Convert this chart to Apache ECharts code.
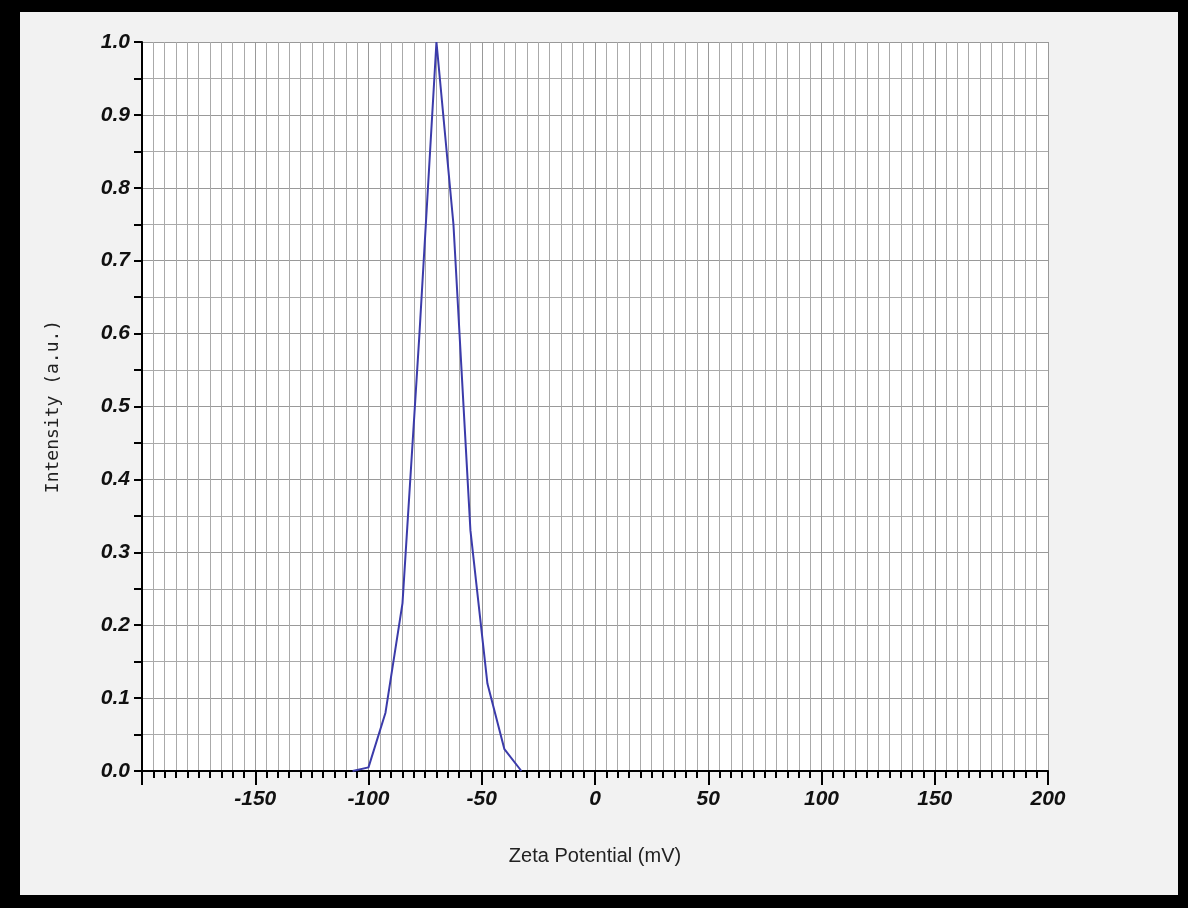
<!DOCTYPE html><html><head><meta charset="utf-8">
<script src="https://cdn.jsdelivr.net/npm/echarts@6/dist/echarts.min.js"></script>
<style>html,body{margin:0;padding:0;background:#000;}
#frame{position:absolute;left:20px;top:12px;width:1158px;height:883px;background:#f2f2f2;}
#c{position:absolute;left:0;top:0;width:1188px;height:908px;}</style></head><body>
<div id="frame"></div><div id="c"></div>
<script>
const zeta=[-107,-100,-92.5,-85,-77.5,-70,-62.5,-55,-47.5,-40,-32.5];
const intensity=[0,0.005,0.08,0.23,0.6,1.0,0.75,0.33,0.12,0.03,0];
const xTicks=[-150,-100,-50,0,50,100,150,200];
const chart=echarts.init(document.getElementById('c'));
const lab={color:'#111',fontStyle:'italic',fontWeight:'bold',fontSize:21,fontFamily:'Arial, Liberation Sans'};
chart.setOption({
 backgroundColor:'transparent',
 grid:{left:142,right:140,top:42,bottom:137,backgroundColor:'#fff',show:true,borderWidth:0},
 xAxis:{type:'value',min:-200,max:200,interval:50,
  name:'Zeta Potential (mV)',nameLocation:'middle',nameGap:75,
  nameTextStyle:{fontSize:20,color:'#222',fontFamily:'Arial, Liberation Sans'},
  axisLine:{onZero:false,lineStyle:{color:'#000',width:2}},
  axisTick:{show:true,length:14,lineStyle:{color:'#000',width:2}},
  minorTick:{show:true,splitNumber:10,length:7,lineStyle:{color:'#000',width:2}},
  splitLine:{show:true,lineStyle:{color:'#999',width:1}},
  minorSplitLine:{show:true,lineStyle:{color:'#aaa',width:1}},
  axisLabel:Object.assign({margin:18,formatter:v=>xTicks.includes(v)?String(v):''},lab)},
 yAxis:{type:'value',min:0,max:1,interval:0.1,
  name:'Intensity (a.u.)',nameLocation:'middle',nameGap:80,
  nameTextStyle:{fontSize:18,color:'#222',fontFamily:'DejaVu Sans Mono, Liberation Mono, monospace'},
  axisLine:{onZero:false,lineStyle:{color:'#000',width:2}},
  axisTick:{show:true,length:8,lineStyle:{color:'#000',width:2}},
  minorTick:{show:true,splitNumber:2,length:8,lineStyle:{color:'#000',width:2}},
  splitLine:{show:true,lineStyle:{color:'#999',width:1}},
  minorSplitLine:{show:true,lineStyle:{color:'#aaa',width:1}},
  axisLabel:Object.assign({margin:12,formatter:v=>v.toFixed(1)},lab)},
 series:[{type:'line',data:zeta.map((x,i)=>[x,intensity[i]]),showSymbol:false,
  lineStyle:{color:'#3b3baa',width:2},animation:false}]
});
</script></body></html>
